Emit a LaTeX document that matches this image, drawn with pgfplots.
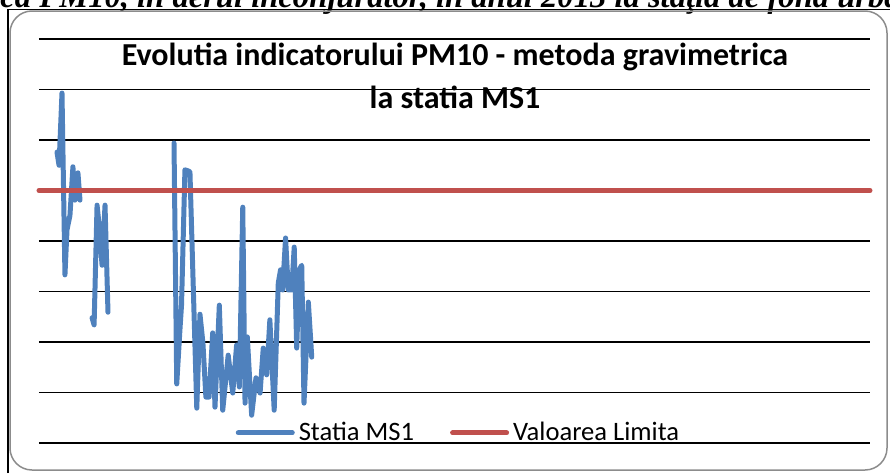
\documentclass[border=0pt]{standalone}
\usepackage{pgfplots}
\pgfplotsset{compat=1.18}
\usepackage{pgfplotstable}
\usepackage{fontspec}
\setmainfont{Carlito}
\newfontfamily\headserif{Liberation Serif}
\definecolor{xlblue}{HTML}{4F81BD}
\definecolor{xlred}{HTML}{C0504D}
\definecolor{framegray}{HTML}{8C8C8C}

\pgfplotstableread{
day val
8.4 57.6
9.3 55.0
10.6 69.3
11.9 33.3
12.8 42.2
14.1 45.1
15.4 54.7
16.3 48.1
17.6 53.5
18.5 48.1
21 nan
23.8 24.8
24.7 23.4
26.0 47.1
26.9 43.2
28.2 35.2
29.5 47.1
30.8 25.9
45 nan
59.8 59.4
61.0 11.7
62.4 22.4
63.1 27.3
64.6 54.1
65.9 53.9
66.8 53.7
69.8 6.9
71.2 25.5
72.5 19.8
73.8 9.1
75.2 9.1
76.8 21.8
77.8 7.1
79.7 27.3
81.2 6.5
83.6 17.4
85.6 9.9
87.3 19.4
88.5 11.1
90.0 46.7
91.0 7.9
92.0 21.0
93.9 5.5
95.8 12.9
97.6 9.9
99.0 18.8
100.5 13.5
101.9 24.4
103.8 6.5
105.6 31.7
106.6 34.3
107.5 30.3
108.8 40.6
110.0 30.3
111.5 30.3
112.6 38.8
113.7 18.8
114.8 34.3
115.9 35.2
116.9 7.9
118.8 27.9
120.3 17.0
}\pmdata

\begin{document}
\begin{tikzpicture}[x=0.5pt,y=0.5pt]
\useasboundingbox (0,0) rectangle (890,473);
\begin{scope}
\clip (0,0) rectangle (890,473);
\node[anchor=base west,inner sep=0pt,font=\headserif\bfseries\itshape\fontsize{16.3}{18}\selectfont] at (-9,466) {ica PM10, în aerul înconjurător, în anul 2013 la staţia de fond urban};
\end{scope}
\draw[black,line width=0.6pt] (8,0) -- (8,463.5) -- (890,463.5);
\draw[framegray,line width=0.75pt,rounded corners=11pt] (10,3) rectangle (887,462);
\begin{axis}[
  at={(19.5pt,15pt)}, anchor=south west,
  scale only axis, width=415.5pt, height=202pt,
  xmin=0.5, xmax=365.5, ymin=0, ymax=80,
  ytick={0,10,...,80}, xtick=\empty,
  yticklabels={}, major tick length=0pt,
  ymajorgrids, grid style={black,line width=0.75pt},
  axis line style={draw=none},
  clip=false,
  unbounded coords=jump,
  legend columns=2,
  legend style={at={(0.506,0.025)},anchor=center,draw=none,fill=none,
    font=\fontsize{13.3}{15}\selectfont,
    /tikz/every even column/.append style={column sep=16pt}},
  legend image code/.code={\draw[#1,line cap=round] (0pt,0pt) -- (27pt,0pt);},
]
\addplot[xlblue,line width=2.5pt,line join=round,line cap=round] table[x=day,y=val] {\pmdata};
\addlegendentry{Statia MS1}
\addplot[xlred,line width=2.5pt,line cap=round] coordinates {(0.5,50) (365.5,50)};
\addlegendentry{Valoarea Limita}
\end{axis}
\node[font=\bfseries\fontsize{16}{19}\selectfont,align=center] at (455,416) {Evolutia indicatorului PM10 - metoda gravimetrica};
\node[font=\bfseries\fontsize{16}{19}\selectfont,align=center] at (455,376) {la statia MS1};
\end{tikzpicture}
\end{document}
